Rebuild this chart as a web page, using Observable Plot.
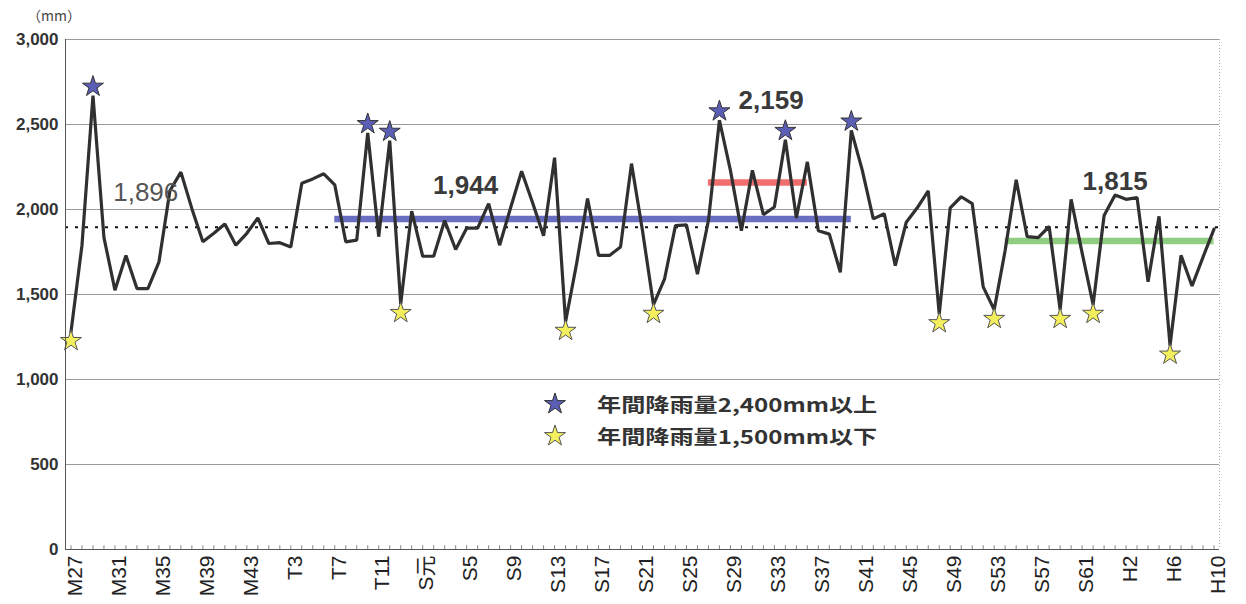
<!DOCTYPE html>
<html><head><meta charset="utf-8">
<script src="https://cdn.jsdelivr.net/npm/d3@7"></script>
<script src="https://cdn.jsdelivr.net/npm/@observablehq/plot@0.6"></script>
<style>
body{margin:0;background:#fff;font-family:"Liberation Sans",Arial,"Noto Sans CJK JP",sans-serif;}
#wrap{position:relative;width:1246px;height:604px;overflow:hidden;background:#fff}
#unit{position:absolute;left:27px;top:5px;font-size:14px;color:#444;font-family:"Noto Sans CJK JP",sans-serif}
.lrow{position:absolute;height:30px;display:flex;align-items:center}
.lrow svg{position:absolute;left:0;top:3px}
.ltext{position:absolute;left:54px;white-space:nowrap;font-family:"Noto Sans CJK JP",sans-serif;font-weight:bold;font-size:19px;color:#333;transform:scaleX(1.27);transform-origin:0 50%;line-height:30px}
</style></head>
<body><div id="wrap"><div id="chart"></div><div id="unit">（mm）</div></div>
<script>
// ---- data ----
const startYear = 1894; // M27
const rainfall = [
1280,1790,2670,1835,1525,1730,1535,1535,1690,2110,
2220,2005,1810,1860,1915,1790,1860,1950,1800,1805,
1780,2155,2180,2210,2145,1810,1820,2450,1840,2405,
1445,1990,1725,1725,1935,1765,1890,1890,2035,1790,
2010,2225,2040,1845,2305,1340,1680,2065,1730,1730,
1780,2270,1875,1440,1590,1905,1910,1620,1935,2525,
2230,1875,2230,1970,2015,2410,1950,2280,1875,1855,
1630,2465,2230,1945,1975,1670,1925,2010,2110,1385,
2010,2075,2035,1545,1410,1760,2175,1840,1835,1900,
1410,2060,1745,1440,1965,2085,2060,2070,1575,1960,
1200,1730,1550,1720,1885];
const years = rainfall.map((_, i) => startYear + i);
const tickYears = [1894,1898,1902,1906,1910,1914,1918,1922,1926,1930,1934,1938,1942,1946,1950,1954,1958,1962,1966,1970,1974,1978,1982,1986,1990,1994,1998];
const tickLabels = ["M27","M31","M35","M39","M43","T3","T7","T11","S元","S5","S9","S13","S17","S21","S25","S29","S33","S37","S41","S45","S49","S53","S57","S61","H2","H6","H10"];
const yTicks = [0,500,1000,1500,2000,2500,3000];
const overallAvg = 1896;
const periodFrom = [1918, 1952, 1979];
const periodTo   = [1965, 1961, 1998];
const periodAvg  = [1944, 2159, 1815];
const highThreshold = 2400;
const lowThreshold = 1500;
const legendLabels = ["年間降雨量2,400mm以上", "年間降雨量1,500mm以下"];

// ---- styles ----
const periodColors = ["#6a6ec0", "#f06e6e", "#8fce80"];
const highFill = "#5a5eb4", lowFill = "#f4ef5c";
const starR = 6.6;

const table = years.map((year, i) => ({year, mm: rainfall[i]}));
const labelOf = new Map(tickYears.map((y, i) => [y, tickLabels[i]]));
const xDomain = [startYear - 0.5, years[years.length - 1] + 0.5];
const fontFam = "Liberation Sans, Arial, Noto Sans CJK JP, sans-serif";

const annotations = [
  {x: 1900.8, y: 2100, text: d3.format(",")(overallAvg), bold: false},
  {x: 1929.9, y: 2141, text: d3.format(",")(periodAvg[0]), bold: true},
  {x: 1957.7, y: 2641, text: d3.format(",")(periodAvg[1]), bold: true},
  {x: 1989.0, y: 2165, text: d3.format(",")(periodAvg[2]), bold: true}
];

const chart = Plot.plot({
  width: 1246, height: 604,
  marginTop: 39, marginBottom: 55, marginLeft: 65, marginRight: 27,
  x: {domain: xDomain},
  y: {domain: [0, 3000]},
  style: {fontFamily: fontFam, background: "#fff", color: "#222"},
  marks: [
    Plot.gridY(yTicks.filter(d => d > 0), {stroke: "#9a9a9a", strokeOpacity: 1, strokeWidth: 1}),
    Plot.ruleX([xDomain[1]], {stroke: "#b0b0b0", strokeDasharray: "1,2"}),
    Plot.ruleY([overallAvg], {stroke: "#111", strokeWidth: 2, strokeDasharray: "3,7"}),
    ...periodAvg.map((a, i) => Plot.ruleY([a], {x1: periodFrom[i], x2: periodTo[i], stroke: periodColors[i], strokeWidth: 6.5})),
    Plot.lineY(table, {x: "year", y: "mm", stroke: "#303030", strokeWidth: 3.2, strokeLinejoin: "miter"}),
    Plot.dot(table.filter(d => d.mm >= highThreshold), {x: "year", y: "mm", symbol: "star", r: starR, fill: highFill, stroke: "#333", strokeWidth: 1, dy: -9}),
    Plot.dot(table.filter(d => d.mm <= lowThreshold), {x: "year", y: "mm", symbol: "star", r: starR, fill: lowFill, stroke: "#555", strokeWidth: 1, dy: 9}),
    Plot.text(annotations.filter(d => !d.bold), {x: "x", y: "y", text: "text", fontSize: 26, fill: "#555", fontWeight: "normal"}),
    Plot.text(annotations.filter(d => d.bold), {x: "x", y: "y", text: "text", fontSize: 26, fill: "#3a3a3a", fontWeight: "bold"}),
    Plot.ruleX([xDomain[0]], {stroke: "#555", strokeWidth: 1}),
    Plot.ruleY([0], {stroke: "#555", strokeWidth: 1}),
    Plot.ruleX(years, {y1: 0, y2: 22, stroke: "#666", strokeWidth: 0.8}),
    Plot.axisY({ticks: yTicks, tickSize: 0, tickPadding: 7, tickFormat: d3.format(","), fontSize: 17, fontWeight: "bold", label: null, fill: "#333"}),
    Plot.axisX({ticks: tickYears, tickFormat: d => labelOf.get(d), tickRotate: -90, tickSize: 0, tickPadding: 6, fontSize: 21, dx: 4, label: null, fill: "#222"})
  ]
});
document.getElementById("chart").appendChild(chart);

// legend overlay
const wrap = d3.select("#wrap");
const starPath = d3.symbol().type(d3.symbolStar).size(starR * starR * Math.PI)();
[[highFill, "#333"], [lowFill, "#555"]].forEach(([fill, stroke], i) => {
  const row = wrap.append("div").attr("class", "lrow").style("left", "543px").style("top", (389 + i * 32) + "px").style("width", "400px");
  const svg = row.append("svg").attr("width", 24).attr("height", 24);
  svg.append("path").attr("d", starPath).attr("transform", "translate(12,12)").attr("fill", fill).attr("stroke", stroke);
  row.append("span").attr("class", "ltext").text(legendLabels[i]);
});
</script>
</body></html>
